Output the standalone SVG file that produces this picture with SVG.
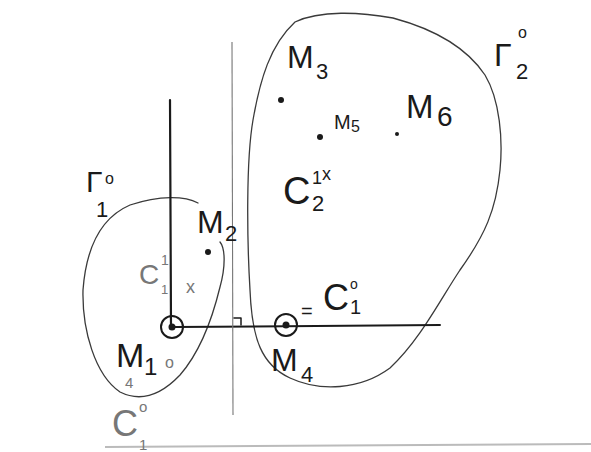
<svg xmlns="http://www.w3.org/2000/svg" width="591" height="452" viewBox="0 0 591 452">
<style>
.ink{fill:none;stroke:#1a1a1a;stroke-linecap:round;stroke-linejoin:round}
.curve{fill:none;stroke:#3a3a3a;stroke-width:1.3;stroke-linecap:round}
.t{font-family:"Liberation Sans",Arial,sans-serif;fill:#1a1a1a}
.g{font-family:"Liberation Sans",Arial,sans-serif;fill:#777}
.dot{fill:#1a1a1a}
</style>
<rect width="591" height="452" fill="#ffffff"/>
<line x1="105" y1="447" x2="591" y2="444" stroke="#bbb" stroke-width="2"/>
<g id="regions">
  <path id="gamma1" class="curve" d="M198,203 C185,196 160,195 130,205 C100,218 86,250 83,290 C82,330 95,375 120,392 C140,402 160,396 180,375 C200,352 212,320 220,287 C226,265 225,248 220,242"/>
  <path id="gamma2" class="curve" d="M460,270 C440,300 420,340 390,368 C360,390 320,392 290,378 C262,365 252,340 250,290 C247,240 246,160 253,120 C260,80 270,45 295,22 C320,10 360,12 393,18 C430,28 465,45 485,75 C500,100 503,140 500,170 C496,210 485,235 460,270"/>
</g>
<g id="connectors">
  <line class="ink" x1="170" y1="100" x2="171" y2="327" stroke-width="2.2"/>
  <line class="ink" x1="175" y1="327" x2="440" y2="325" stroke-width="2"/>
  <line x1="232" y1="42" x2="233" y2="415" stroke="#777" stroke-width="1.1"/>
  <path class="ink" d="M234,318 L241,318 L241,325" stroke-width="1.5"/>
</g>
<g id="M1">
  <circle cx="172" cy="327" r="11" class="ink" stroke-width="2"/>
  <circle cx="172" cy="327" r="3.5" class="dot"/>
  <text class="t" x="116" y="367" font-size="34">M</text>
  <text class="t" x="144" y="375" font-size="24">1</text>
  <text class="g" x="165" y="368" font-size="16">o</text>
  <text class="g" x="125" y="388" font-size="15">4</text>
</g>
<g id="C10">
  <text class="g" x="112" y="436" font-size="36">C</text>
  <text class="g" x="139" y="412" font-size="15">o</text>
  <text class="g" x="139" y="450" font-size="15">1</text>
</g>
<g id="gamma1label">
  <text class="t" x="86" y="192" font-size="30">Γ</text>
  <text class="t" x="105" y="184" font-size="16">o</text>
  <text class="t" x="96" y="217" font-size="22">1</text>
</g>
<g id="M2">
  <circle cx="208" cy="252" r="3" class="dot"/>
  <text class="t" x="197" y="233" font-size="32">M</text>
  <text class="t" x="225" y="241" font-size="22">2</text>
</g>
<g id="C11">
  <text class="g" x="139" y="284" font-size="28">C</text>
  <text class="g" x="161" y="265" font-size="14">1</text>
  <text class="g" x="161" y="294" font-size="13">1</text>
  <text class="g" x="186" y="293" font-size="18">x</text>
</g>
<g id="M3">
  <circle cx="281" cy="100" r="3" class="dot"/>
  <text class="t" x="287" y="68" font-size="32">M</text>
  <text class="t" x="316" y="79" font-size="22">3</text>
</g>
<g id="M5">
  <circle cx="320" cy="137" r="3" class="dot"/>
  <text class="t" x="334" y="129" font-size="20">M</text>
  <text class="t" x="351" y="132" font-size="16">5</text>
</g>
<g id="M6">
  <circle cx="397" cy="134" r="2" class="dot"/>
  <text class="t" x="406" y="118" font-size="33">M</text>
  <text class="t" x="437" y="126" font-size="28">6</text>
</g>
<g id="C21x">
  <text class="t" x="283" y="204" font-size="38">C</text>
  <text class="t" x="312" y="184" font-size="18">1</text>
  <text class="t" x="322" y="180" font-size="18">x</text>
  <text class="t" x="312" y="211" font-size="22">2</text>
</g>
<g id="gamma2label">
  <text class="t" x="494" y="66" font-size="32">Γ</text>
  <text class="t" x="518" y="38" font-size="16">o</text>
  <text class="t" x="516" y="79" font-size="22">2</text>
</g>
<g id="M4">
  <circle cx="286" cy="325" r="11" class="ink" stroke-width="2"/>
  <circle cx="286" cy="325" r="3.5" class="dot"/>
  <text class="t" x="271" y="371" font-size="32">M</text>
  <text class="t" x="301" y="382" font-size="22">4</text>
  <text class="t" x="301" y="318" font-size="20">=</text>
  <text class="t" x="323" y="310" font-size="36">C</text>
  <text class="t" x="350" y="289" font-size="14">o</text>
  <text class="t" x="350" y="314" font-size="20">1</text>
</g>
</svg>
